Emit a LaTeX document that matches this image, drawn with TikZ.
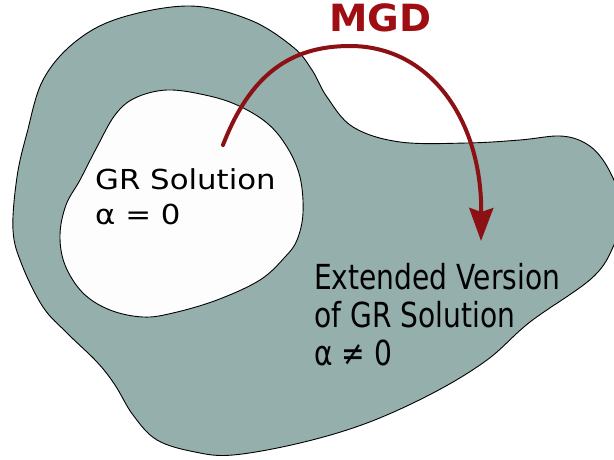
\documentclass[tikz,border=0pt]{standalone}
\usepackage{fontspec}
\setmainfont{DejaVu Sans}
\newfontfamily\innerfont[FakeStretch=1.12]{DejaVu Sans}
\newfontfamily\outerfont[FakeStretch=0.815]{DejaVu Sans}
\newfontfamily\titlefont[FakeStretch=1.03]{DejaVu Sans}
\usetikzlibrary{arrows.meta}

\definecolor{blobfill}{RGB}{149,175,172}
\definecolor{holefill}{RGB}{253,253,253}
\definecolor{arrowred}{RGB}{140,17,21}
\definecolor{labelred}{RGB}{158,14,18}

\tikzset{
  region/.style={draw=black, line width=0.9pt, line join=round},
  label text/.style={inner sep=0pt, anchor=base west},
  mapping/.style={draw=arrowred, line width=4pt, line cap=round,
    -{Stealth[length=33pt, width=24pt, inset=4pt]}}
}

\begin{document}
\begin{tikzpicture}[x=1pt, y=-1pt]
  \useasboundingbox (0,0) rectangle (614,460);
  \clip (0,0) rectangle (614,460);

  % outer region: the extended solutions
  \path[region, fill=blobfill] plot[smooth cycle, tension=0.6] coordinates {
    (13,230) (17,177) (27,133) (43,80) (75,42) (120,18) (190,6) (250,20)
    (293,47) (312,70) (327,97) (353,127) (400,142) (467,143) (520,140)
    (560,136) (585,143) (603,160) (618,190) (622,215) (614,245) (592,278)
    (530,322) (487,360) (433,393) (367,423) (300,443) (233,455) (195,452)
    (157,440) (133,415) (115,385) (97,362) (67,333) (43,307) (22,265)};

  % inner region: the GR solutions
  \path[region, fill=holefill] plot[smooth cycle, tension=0.6] coordinates {
    (167,90) (205,95) (237,105) (267,123) (287,147) (300,177) (303,213)
    (297,240) (285,257) (260,280) (217,300) (173,313) (143,317) (110,310)
    (83,293) (65,265) (60,235) (66,205) (80,180) (97,147) (115,115) (135,98)};

  % labels
  \node[label text, font=\innerfont\fontsize{27.5}{35.5}\selectfont]
    (gr) at (95,189.5)
    {\begin{tabular}[t]{@{}l@{}}GR Solution\\α = 0\end{tabular}};
  \node[label text, font=\outerfont\fontsize{34.5}{38.3}\selectfont]
    (ext) at (314,289.3)
    {\begin{tabular}[t]{@{}l@{}}Extended Version\\of GR Solution\\α ≠ 0\end{tabular}};
  \node[label text, text=labelred, font=\titlefont\bfseries\fontsize{37.5}{40}\selectfont]
    (mgd) at (329,32) {MGD};

  % the MGD map
  \coordinate (src) at (223,145);
  \coordinate (dst) at (481,241);
  \draw[mapping] (src) .. controls (250,75) and (290,46) .. (350,46)
                       .. controls (430,46) and (482,120) .. (dst);
\end{tikzpicture}
\end{document}
